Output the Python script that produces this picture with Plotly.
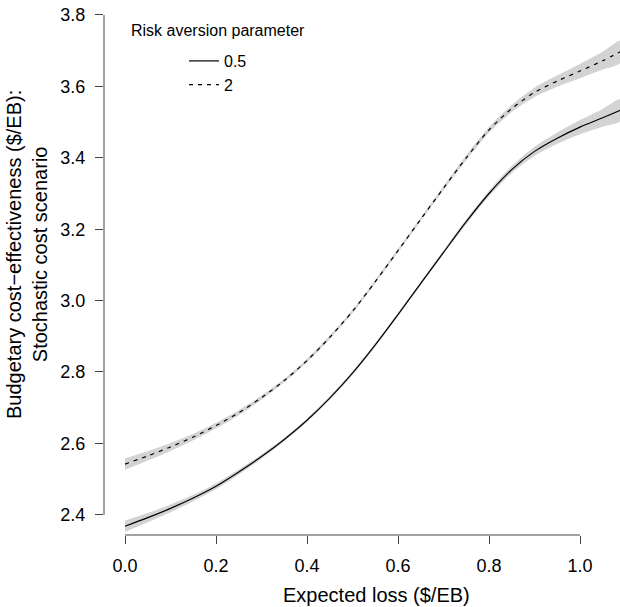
import plotly.graph_objects as go

# ---- data ----
expected_loss = [0.0, 0.05, 0.1, 0.15, 0.2, 0.25, 0.3, 0.35, 0.4, 0.45, 0.5,
                 0.55, 0.6, 0.65, 0.7, 0.75, 0.8, 0.85, 0.9, 0.95, 1.0, 1.05, 1.09]

ce_risk_05 = [2.368, 2.392, 2.418, 2.447, 2.480, 2.520, 2.563, 2.611, 2.665, 2.727, 2.797,
              2.876, 2.961, 3.048, 3.135, 3.221, 3.300, 3.367, 3.418, 3.455, 3.486, 3.512, 3.534]

ce_risk_2 = [2.542, 2.565, 2.590, 2.618, 2.650, 2.686, 2.728, 2.776, 2.832, 2.897, 2.970,
             3.053, 3.140, 3.228, 3.315, 3.400, 3.478, 3.538, 3.583, 3.615, 3.643, 3.672, 3.698]

band_halfwidth_05 = [0.016, 0.013, 0.011, 0.009, 0.008, 0.007, 0.006, 0.005, 0.005, 0.005, 0.005,
                     0.005, 0.005, 0.005, 0.006, 0.007, 0.008, 0.010, 0.013, 0.016, 0.020, 0.025, 0.030]
band_halfwidth_2 = [0.016, 0.013, 0.011, 0.009, 0.008, 0.007, 0.006, 0.005, 0.005, 0.005, 0.005,
                    0.005, 0.005, 0.005, 0.006, 0.007, 0.008, 0.010, 0.013, 0.016, 0.020, 0.025, 0.030]

x_ticks = [0.0, 0.2, 0.4, 0.6, 0.8, 1.0]
y_ticks = [2.4, 2.6, 2.8, 3.0, 3.2, 3.4, 3.6, 3.8]
series_names = ["0.5", "2"]

FONT = "Liberation Sans, Arial, sans-serif"
BAND = "#d3d3d3"
AXC = "#444444"

fig = go.Figure()

for ys, hw in [(ce_risk_05, band_halfwidth_05), (ce_risk_2, band_halfwidth_2)]:
    upper = [y + h for y, h in zip(ys, hw)]
    lower = [y - h for y, h in zip(ys, hw)]
    fig.add_trace(go.Scatter(
        x=expected_loss + expected_loss[::-1],
        y=upper + lower[::-1],
        fill="toself", fillcolor=BAND, mode="lines",
        line=dict(width=0, color=BAND, shape="spline", smoothing=0.8),
        showlegend=False, hoverinfo="skip"))

fig.add_trace(go.Scatter(x=expected_loss, y=ce_risk_05, mode="lines", name=series_names[0],
                         line=dict(color="black", width=1.2, shape="spline", smoothing=0.8)))
fig.add_trace(go.Scatter(x=expected_loss, y=ce_risk_2, mode="lines", name=series_names[1],
                         line=dict(color="black", width=1.2, dash="4px,5px", shape="spline", smoothing=0.8)))

W, H = 620, 607
L, R, T, B = 104, 0, 0, 72
pw, ph = W - L - R, H - T - B

fig.update_layout(
    width=W, height=H,
    margin=dict(l=L, r=R, t=T, b=B, pad=0),
    paper_bgcolor="white", plot_bgcolor="white",
    font=dict(family=FONT, color="black", size=18),
    showlegend=True,
    legend=dict(x=(184 - L) / pw, y=1 - 44 / ph, xanchor="left", yanchor="top",
                font=dict(size=16, family=FONT), bgcolor="rgba(0,0,0,0)",
                borderwidth=0, itemwidth=30, tracegroupgap=0),
    xaxis=dict(range=[-0.0462, 1.0879], tickvals=x_ticks, tickformat=".1f",
               showgrid=False, zeroline=False, showline=False,
               ticks="outside", ticklen=8, tickwidth=1, tickcolor=AXC,
               tickfont=dict(size=18), ticklabelstandoff=6),
    yaxis=dict(range=[2.3434, 3.842], tickvals=y_ticks, tickformat=".1f",
               showgrid=False, zeroline=False, showline=False,
               ticks="outside", ticklen=8, tickwidth=1, tickcolor=AXC,
               tickfont=dict(size=18), ticklabelstandoff=6),
    shapes=[
        dict(type="line", xref="x", yref="paper", x0=x_ticks[0], x1=x_ticks[-1], y0=0, y1=0,
             line=dict(color=AXC, width=1)),
        dict(type="line", xref="paper", yref="y", x0=0, x1=0, y0=y_ticks[0], y1=y_ticks[-1],
             line=dict(color=AXC, width=1)),
    ],
    annotations=[
        dict(text="Risk aversion parameter", xref="paper", yref="paper",
             x=(129 - L) / pw, y=1 - 30 / ph, xanchor="left", yanchor="middle",
             showarrow=False, font=dict(size=16, family=FONT)),
        dict(text="Expected loss ($/EB)", xref="paper", yref="paper",
             x=(376 - L) / pw, y=-(595 - ph) / ph, xanchor="center", yanchor="middle",
             showarrow=False, font=dict(size=20, family=FONT)),
        dict(text="Budgetary cost\u2212effectiveness ($/EB):<br>Stochastic cost scenario",
             xref="paper", yref="paper", x=(27 - L) / pw, y=1 - 255 / ph,
             xanchor="center", yanchor="middle", textangle=-90,
             showarrow=False, font=dict(size=20, family=FONT)),
    ],
)

fig.write_html("out.html")
